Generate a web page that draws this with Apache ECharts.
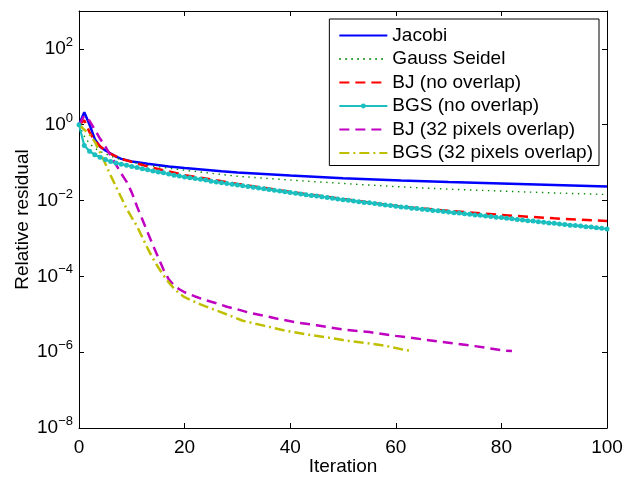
<!DOCTYPE html>
<html>
<head>
<meta charset="utf-8">
<script src="https://cdn.jsdelivr.net/npm/echarts@6/dist/echarts.min.js"></script>
<style>
  html, body { margin: 0; padding: 0; background: #fff; }
  #chart { width: 624px; height: 477px; }
</style>
</head>
<body>
<div id="chart"></div>
<script>
// Relative residual per iteration, stored as log10(residual).
// Sparse curves are [iteration, log10 residual] pairs.
const jacobi = [
  [0, 0], [1, 0.33], [2, 0.0], [3, -0.38], [4, -0.58], [5, -0.68], [6, -0.76],
  [7, -0.84], [8, -0.9], [10, -0.97], [13, -1.03], [17, -1.1], [20, -1.14],
  [27, -1.23], [30, -1.26], [40, -1.34], [50, -1.41], [61, -1.47], [70, -1.51],
  [80, -1.55], [90, -1.59], [100, -1.63]
];
const gaussSeidel = [
  [0, 0], [1, -0.3], [2, -0.5], [3, -0.62], [4, -0.7], [5, -0.77], [6, -0.83],
  [8, -0.92], [10, -0.99], [13, -1.07], [16, -1.13], [20, -1.2], [25, -1.28],
  [30, -1.36], [40, -1.46], [50, -1.55], [61, -1.64], [70, -1.7], [80, -1.75],
  [90, -1.8], [100, -1.84]
];
const bjNoOverlap = [
  [0, 0], [1, 0.12], [2, -0.2], [3, -0.42], [4, -0.57], [5, -0.68], [6, -0.77],
  [8, -0.9], [10, -0.98], [13, -1.1], [15, -1.17], [20, -1.33], [24, -1.42],
  [30, -1.56], [40, -1.77], [50, -1.96], [61, -2.16], [70, -2.27], [80, -2.38],
  [90, -2.47], [100, -2.54]
];
// one value for every iteration 0..100
const bgsNoOverlap = [
  0, -0.55, -0.70, -0.79, -0.86, -0.92, -0.97, -1.01, -1.04, -1.07,
  -1.10, -1.13, -1.16, -1.19, -1.22, -1.25, -1.27, -1.30, -1.33, -1.35,
  -1.38, -1.40, -1.42, -1.44, -1.46, -1.49, -1.51, -1.53, -1.55, -1.57,
  -1.59, -1.61, -1.63, -1.65, -1.67, -1.69, -1.71, -1.73, -1.75, -1.77,
  -1.79, -1.81, -1.83, -1.85, -1.87, -1.88, -1.90, -1.92, -1.94, -1.96,
  -1.98, -1.99, -2.01, -2.03, -2.05, -2.06, -2.08, -2.10, -2.12, -2.13,
  -2.15, -2.17, -2.18, -2.20, -2.21, -2.23, -2.24, -2.26, -2.27, -2.29,
  -2.30, -2.32, -2.33, -2.35, -2.36, -2.38, -2.39, -2.41, -2.42, -2.44,
  -2.45, -2.47, -2.48, -2.50, -2.51, -2.53, -2.54, -2.56, -2.57, -2.59,
  -2.60, -2.62, -2.63, -2.65, -2.66, -2.67, -2.69, -2.70, -2.72, -2.73,
  -2.75
];
const bj32Overlap = [
  [0, 0], [1, 0.24], [2, 0.1], [3, -0.13], [4, -0.37], [5, -0.58], [6, -0.82],
  [7, -1.05], [8, -1.29], [9, -1.5], [10, -1.79], [11, -2.16], [12, -2.5],
  [13, -2.84], [14, -3.18], [15, -3.5], [16, -3.82], [17, -4.08], [18, -4.24],
  [19, -4.34], [20, -4.42], [22, -4.53], [24, -4.63], [26, -4.71], [28, -4.8],
  [30, -4.87], [32, -4.95], [35, -5.04], [38, -5.13], [41, -5.21], [45, -5.29],
  [50, -5.4], [55, -5.47], [60, -5.57], [65, -5.66], [70, -5.75], [75, -5.84],
  [80, -5.95], [82, -5.97]
];
const bgs32Overlap = [
  [0, 0], [1, -0.13], [2, -0.26], [3, -0.45], [4, -0.74], [5, -1.03], [6, -1.34],
  [7, -1.63], [8, -1.92], [9, -2.21], [10, -2.45], [11, -2.68], [12, -2.97],
  [13, -3.26], [14, -3.53], [15, -3.76], [16, -3.97], [17, -4.16], [18, -4.32],
  [19, -4.45], [20, -4.55], [23, -4.74], [27, -4.95], [31, -5.17], [35, -5.3],
  [39, -5.43], [43, -5.53], [47, -5.61], [50, -5.68], [54, -5.75], [58, -5.83],
  [61, -5.92], [63, -5.97]
];

const seriesNames = [
  'Jacobi', 'Gauss Seidel', 'BJ (no overlap)', 'BGS (no overlap)',
  'BJ (32 pixels overlap)', 'BGS (32 pixels overlap)'
];
const xTicks = [0, 20, 40, 60, 80, 100];

const FONT = '"Liberation Sans", Arial, Helvetica, sans-serif';
const toPairs = (pts) => pts.map(([it, e]) => [it, Math.pow(10, e)]);
const perIteration = (vals) => vals.map((e, it) => [it, Math.pow(10, e)]);

function powLabel(value) {
  const e = Math.round(Math.log10(value));
  if (e > 2) return '';
  const exp = e < 0 ? '\u2212' + (-e) : String(e);
  return '{b|10}{e|' + exp + '}';
}

const tickStyle = { show: true, inside: true, length: 5, lineStyle: { color: '#000', width: 1 } };
const lineAxis = { show: true, onZero: false, lineStyle: { color: '#000', width: 1 } };

// only the marker series keeps its dot in the legend sample
const legendItems = seriesNames.map((name, i) =>
  i === 3 ? { name } : { name, itemStyle: { opacity: 0 } }
);

const chart = echarts.init(document.getElementById('chart'), null, { renderer: 'canvas' });

chart.setOption({
  animation: false,
  backgroundColor: '#fff',
  textStyle: { fontFamily: FONT, color: '#000' },
  grid: { left: 79, right: 17, top: 11, bottom: 49, containLabel: false, outerBoundsMode: 'none' },
  legend: {
    data: legendItems,
    orient: 'vertical',
    right: 25,
    top: 19,
    padding: [7, 6, 3, 9],
    itemWidth: 48,
    itemHeight: 6,
    itemGap: 4.5,
    backgroundColor: '#fff',
    borderColor: '#000',
    borderWidth: 1,
    borderRadius: 0,
    textStyle: { fontFamily: FONT, fontSize: 19, color: '#000' }
  },
  xAxis: [
    {
      type: 'value', min: xTicks[0], max: xTicks[xTicks.length - 1], interval: 20,
      name: 'Iteration', nameLocation: 'middle', nameGap: 29, nameMoveOverlap: false,
      nameTextStyle: { fontFamily: FONT, fontSize: 19, color: '#000' },
      axisLine: lineAxis, axisTick: tickStyle,
      axisLabel: { fontFamily: FONT, fontSize: 19, color: '#000', margin: 10 },
      splitLine: { show: false }
    },
    {
      type: 'value', position: 'top', min: 0, max: 100, interval: 20,
      axisLine: lineAxis, axisTick: tickStyle,
      axisLabel: { show: false }, splitLine: { show: false }
    }
  ],
  yAxis: [
    {
      type: 'log', logBase: 10, min: 1e-8, max: 1e3, interval: 2,
      name: 'Relative residual', nameLocation: 'middle', nameGap: 47, nameMoveOverlap: false,
      nameTextStyle: { fontFamily: FONT, fontSize: 19, color: '#000' },
      axisLine: lineAxis, axisTick: tickStyle,
      axisLabel: {
        margin: 6,
        formatter: powLabel,
        rich: {
          b: { fontFamily: FONT, fontSize: 19, color: '#000' },
          e: { fontFamily: FONT, fontSize: 13, color: '#000', padding: [0, 0, 13, 0] }
        }
      },
      minorTick: { show: false },
      splitLine: { show: false }
    },
    {
      type: 'log', logBase: 10, min: 1e-8, max: 1e3, interval: 2, position: 'right',
      axisLine: lineAxis, axisTick: tickStyle,
      axisLabel: { show: false }, splitLine: { show: false }
    }
  ],
  series: [
    {
      name: seriesNames[0], type: 'line', data: toPairs(jacobi),
      symbol: 'none', lineStyle: { color: '#0000ff', width: 2.5 }, itemStyle: { color: '#0000ff' }
    },
    {
      name: seriesNames[1], type: 'line', data: toPairs(gaussSeidel),
      symbol: 'none', lineStyle: { color: '#008a00', width: 1.4, type: [1.4, 4.6] }, itemStyle: { color: '#008a00' }
    },
    {
      name: seriesNames[2], type: 'line', data: toPairs(bjNoOverlap),
      symbol: 'none', lineStyle: { color: '#ff0000', width: 2.5, type: [10, 6] }, itemStyle: { color: '#ff0000' }
    },
    {
      name: seriesNames[3], type: 'line', data: perIteration(bgsNoOverlap),
      symbol: 'circle', symbolSize: 5, showSymbol: true,
      lineStyle: { color: '#1cbfbf', width: 2.2 }, itemStyle: { color: '#1cbfbf' }
    },
    {
      name: seriesNames[4], type: 'line', data: toPairs(bj32Overlap),
      symbol: 'none', lineStyle: { color: '#c000c0', width: 2.5, type: [10, 6] }, itemStyle: { color: '#c000c0' }
    },
    {
      name: seriesNames[5], type: 'line', data: toPairs(bgs32Overlap),
      symbol: 'none', lineStyle: { color: '#bfbf00', width: 2.5, type: [10, 4, 2, 4] }, itemStyle: { color: '#bfbf00' }
    }
  ]
});
</script>
</body>
</html>
